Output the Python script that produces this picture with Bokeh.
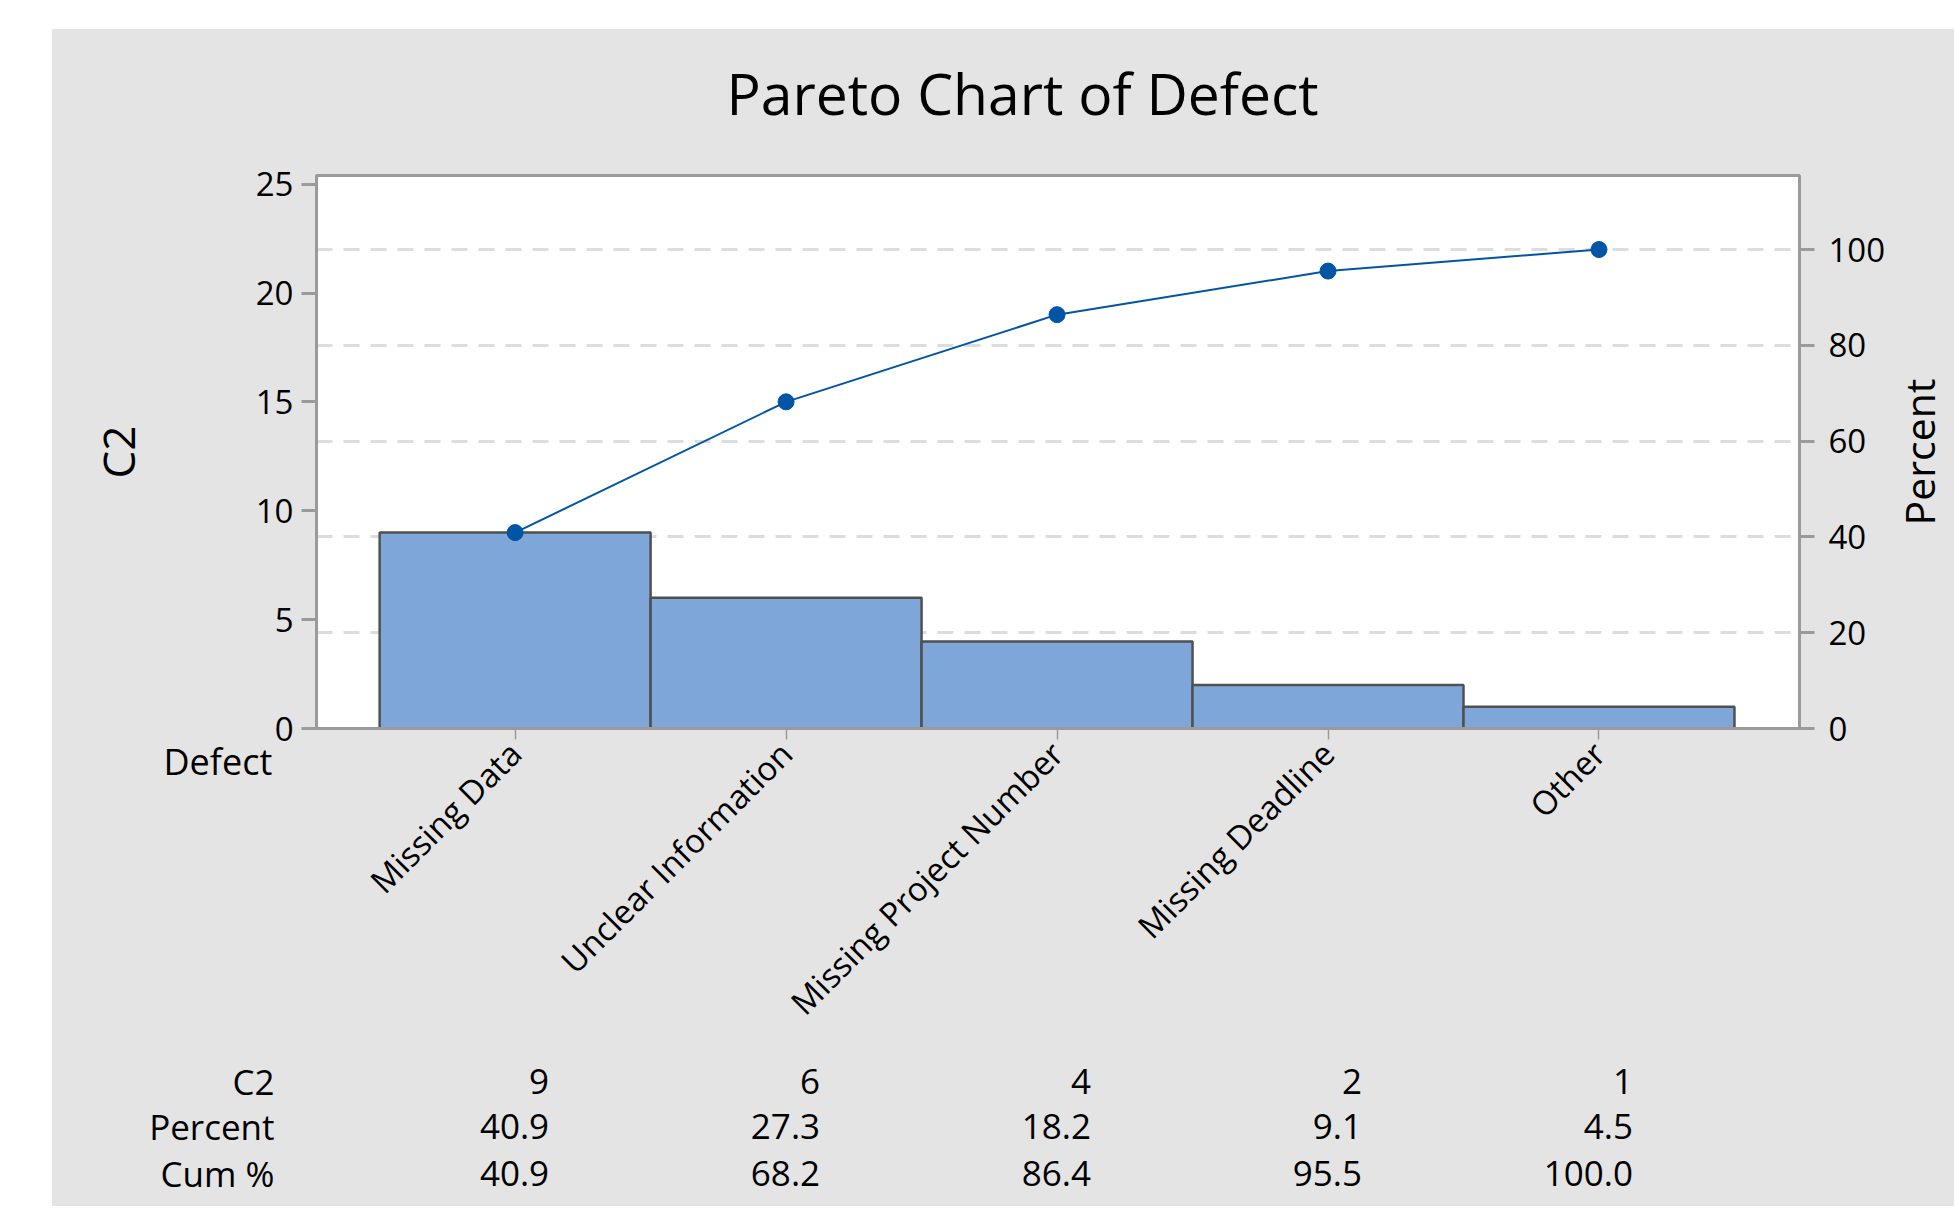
import math
from bokeh.plotting import figure
from bokeh.layouts import column, row
from bokeh.models import (Range1d, LinearAxis, FixedTicker, Grid, Title, ColumnDataSource)
from bokeh.core.properties import value
from bokeh.embed import file_html
from bokeh.resources import INLINE

# ---- data ----
categories = ["Missing Data", "Unclear Information", "Missing Project Number",
              "Missing Deadline", "Other"]
counts = [9, 6, 4, 2, 1]
percents = [40.9, 27.3, 18.2, 9.1, 4.5]
cum_percents = [40.9, 68.2, 86.4, 95.5, 100.0]
left_ticks = [0, 5, 10, 15, 20, 25]
right_ticks = [0, 20, 40, 60, 80, 100]
grid_ticks = [20, 40, 60, 80, 100]
row_labels = ["C2", "Percent", "Cum %"]

FONT = "Open Sans"
GRAY = "#9A9A9A"
BG = "#E4E4E4"
total = sum(counts)
y_max = 25.4
idx = list(range(len(categories)))

# ---- layout constants (pixels) ----
W = 1902          # full width of the grey panel
HH = 120          # header (title) height
H_MAIN = 903      # chart height
H_TAB = 154       # table height
SW = 65           # strip on the right holding the "Percent" label
FR_LEFT, FR_TOP, FR_W, FR_H = 264, 26, 1483, 553
MAIN_W = W - SW
X0, X1 = -0.733, 4.74

def blank(fig):
    fig.xgrid.visible = False
    fig.ygrid.visible = False
    fig.frame_align = False

# ---- header with the title ----
head = figure(width=W, height=HH, output_backend="svg", toolbar_location=None,
              x_range=Range1d(0, 1), y_range=Range1d(0, 1),
              x_axis_location=None, y_axis_location=None,
              min_border_left=FR_LEFT, min_border_right=W - FR_LEFT - FR_W,
              min_border_top=HH - 4, min_border_bottom=0,
              background_fill_color=BG, border_fill_color=BG, outline_line_color=None)
blank(head)
head.title.text = "Pareto Chart of Defect"
head.title.align = "left"
head.title.offset = 410
head.title.text_font = FONT
head.title.text_font_size = "57px"
head.title.text_font_style = "normal"
head.title.text_color = "black"
head.title.standoff = 27

# ---- main chart ----
p = figure(width=MAIN_W, height=H_MAIN, output_backend="svg", toolbar_location=None,
           x_range=Range1d(X0, X1), y_range=Range1d(0, y_max),
           min_border_left=FR_LEFT, min_border_right=MAIN_W - FR_LEFT - FR_W,
           min_border_top=FR_TOP, min_border_bottom=H_MAIN - FR_TOP - FR_H,
           background_fill_color="white", border_fill_color=BG,
           outline_line_color=GRAY, outline_line_width=3)
p.frame_align = False
p.extra_y_ranges = {"pct": Range1d(0, y_max * 100 / total)}
p.xgrid.visible = False
p.ygrid.visible = False
p.add_layout(Grid(dimension=1, ticker=FixedTicker(ticks=grid_ticks), y_range_name="pct",
                  grid_line_color="#DDDDDD", grid_line_width=3, grid_line_dash="16 11"))

src = ColumnDataSource(dict(x=idx, counts=counts, cum=cum_percents))
p.vbar(x="x", top="counts", width=1.0, bottom=0, source=src,
       fill_color="#7EA6D8", line_color="#505050", line_width=2.5)
p.line(x="x", y="cum", source=src, y_range_name="pct", line_color="#0055A5", line_width=2)
p.scatter(x="x", y="cum", source=src, y_range_name="pct", size=16,
          fill_color="#0055A5", line_color="#0055A5")

def style_axis(ax, tick_out, tick_w, fs="33px"):
    ax.major_label_text_font = FONT
    ax.major_label_text_font_size = fs
    ax.major_label_text_color = "black"
    ax.major_tick_out = tick_out
    ax.major_tick_in = 0
    ax.major_tick_line_color = GRAY
    ax.major_tick_line_width = tick_w
    ax.minor_tick_line_color = None
    ax.axis_line_color = GRAY
    ax.axis_line_width = 3
    ax.axis_label_text_font = FONT
    ax.axis_label_text_font_style = "normal"
    ax.axis_label_text_color = "black"

yax = p.yaxis[0]
yax.ticker = FixedTicker(ticks=left_ticks)
style_axis(yax, 15, 3)
yax.major_label_standoff = 8
yax.axis_label = "C2"
yax.axis_label_text_font_size = "44px"
yax.axis_label_standoff = 105

rax = LinearAxis(y_range_name="pct", ticker=FixedTicker(ticks=right_ticks))
style_axis(rax, 15, 3)
rax.major_label_standoff = 14
p.add_layout(rax, "right")

xax = p.xaxis[0]
xax.ticker = FixedTicker(ticks=idx)
xax.major_label_overrides = {i: c for i, c in zip(idx, categories)}
xax.major_label_orientation = math.pi / 4
style_axis(xax, 11, 1.5, fs="33px")
xax.major_label_standoff = 8

p.add_layout(Title(text="Defect", align="left", offset=-153, standoff=-612,
                   vertical_align="top", text_font=FONT, text_font_size="36px",
                   text_font_style="normal", text_color="black"), "below")

# ---- right strip with the secondary axis title ----
side = figure(width=SW, height=H_MAIN, output_backend="svg", toolbar_location=None,
              x_range=Range1d(0, SW), y_range=Range1d(0, H_MAIN),
              x_axis_location=None, y_axis_location=None,
              min_border_left=0, min_border_right=0, min_border_top=0, min_border_bottom=0,
              background_fill_color=BG, border_fill_color=BG, outline_line_color=None)
blank(side)
side.text(x=[29], y=[H_MAIN - FR_TOP - FR_H / 2], text=["Percent"], angle=math.pi / 2,
          text_align="center", text_baseline="middle",
          text_font=value(FONT), text_font_size=value("41px"), text_color="black")

# ---- table beneath the chart ----
px_per_unit = FR_W / (X1 - X0)
tx0 = X0 - FR_LEFT / px_per_unit
tx1 = X0 + (W - FR_LEFT) / px_per_unit
t = figure(width=W, height=H_TAB, output_backend="svg", toolbar_location=None,
           x_range=Range1d(tx0, tx1), y_range=Range1d(0, H_TAB),
           x_axis_location=None, y_axis_location=None,
           min_border_left=0, min_border_right=0, min_border_top=0, min_border_bottom=0,
           background_fill_color=BG, border_fill_color=BG, outline_line_color=None)
blank(t)

row_y = [125, 80, 33]
row_texts = [[str(c) for c in counts],
             [f"{v:.1f}" for v in percents],
             [f"{v:.1f}" for v in cum_percents]]
t.text(x=[X0] * 3, y=row_y, text=row_labels, x_offset=-42,
       text_align="right", text_baseline="middle",
       text_font=value(FONT), text_font_size=value("35px"), text_color="black")
for yy, texts in zip(row_y, row_texts):
    t.text(x=idx, y=[yy] * len(idx), text=texts, x_offset=34,
           text_align="right", text_baseline="middle",
           text_font=value(FONT), text_font_size=value("35px"), text_color="black")

mid = row(p, side, spacing=0)
mid.styles = {"background-color": BG}
layout = column(head, mid, t, spacing=0, margin=(29, 0, 0, 52))
layout.styles = {"background-color": BG}
open("out.html", "w").write(file_html(layout, INLINE))
